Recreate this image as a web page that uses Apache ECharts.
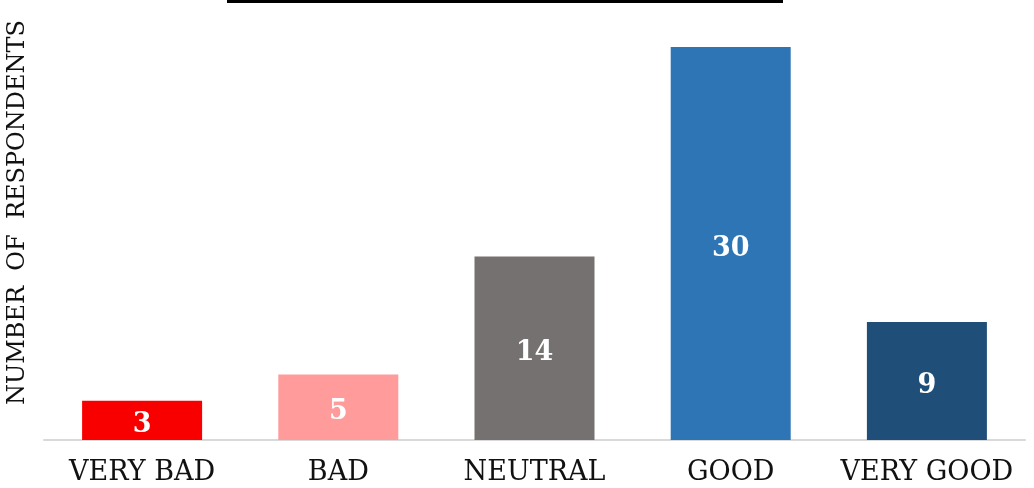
<!DOCTYPE html>
<html lang="en">
<head>
    <meta charset="UTF-8">
    <title>Respondents</title>
    <script src="https://cdn.jsdelivr.net/npm/echarts@6/dist/echarts.min.js"></script>
    <style>
        html, body { margin: 0; padding: 0; background: #fff; }
    </style>
</head>
<body>
    <div id="main" style="width: 1034px;height:488px;"></div>
    <script>
        const categories = ["VERY BAD", "BAD", "NEUTRAL", "GOOD", "VERY GOOD"]
        const respondents = [3, 5, 14, 30, 9]
        const barColors = ["#f80000", "#ff9b9b", "#767171", "#2e75b6", "#1f4e79"]

        const mychart = echarts.init(document.getElementById("main"))
        const option = {
            animation: false,
            grid: { left: 44, right: 9, top: 47, bottom: 48, outerBoundsMode: "none", containLabel: false },
            // title underline, the title itself is cut off above the picture
            graphic: [{
                type: "rect",
                shape: { x: 227, y: 0, width: 556, height: 3 },
                style: { fill: "#000" }
            }],
            xAxis: {
                type: "category",
                data: categories,
                axisTick: { show: false },
                axisLine: { lineStyle: { color: "#d9d9d9", width: 2 } },
                axisLabel: {
                    interval: 0,
                    color: "#111",
                    fontFamily: "DejaVu Serif",
                    fontSize: 27,
                    margin: 19
                }
            },
            yAxis: {
                type: "value",
                min: 0,
                max: 30,
                axisLine: { show: false },
                axisTick: { show: false },
                axisLabel: { show: false },
                splitLine: { show: false },
                name: "NUMBER  OF  RESPONDENTS",
                nameLocation: "middle",
                nameRotate: 90,
                nameGap: 14,
                nameTextStyle: {
                    color: "#111",
                    fontFamily: "DejaVu Serif",
                    fontSize: 24,
                    padding: [0, 0, 0, 62]
                }
            },
            series: [{
                type: "bar",
                barWidth: 120,
                data: respondents.map((v, i) => ({ value: v, itemStyle: { color: barColors[i] } })),
                label: {
                    show: true,
                    position: "inside",
                    offset: [0, 5],
                    color: "#fff",
                    fontFamily: "DejaVu Serif",
                    fontWeight: "bold",
                    fontSize: 27
                }
            }]
        }
        mychart.setOption(option)
    </script>
</body>
</html>
